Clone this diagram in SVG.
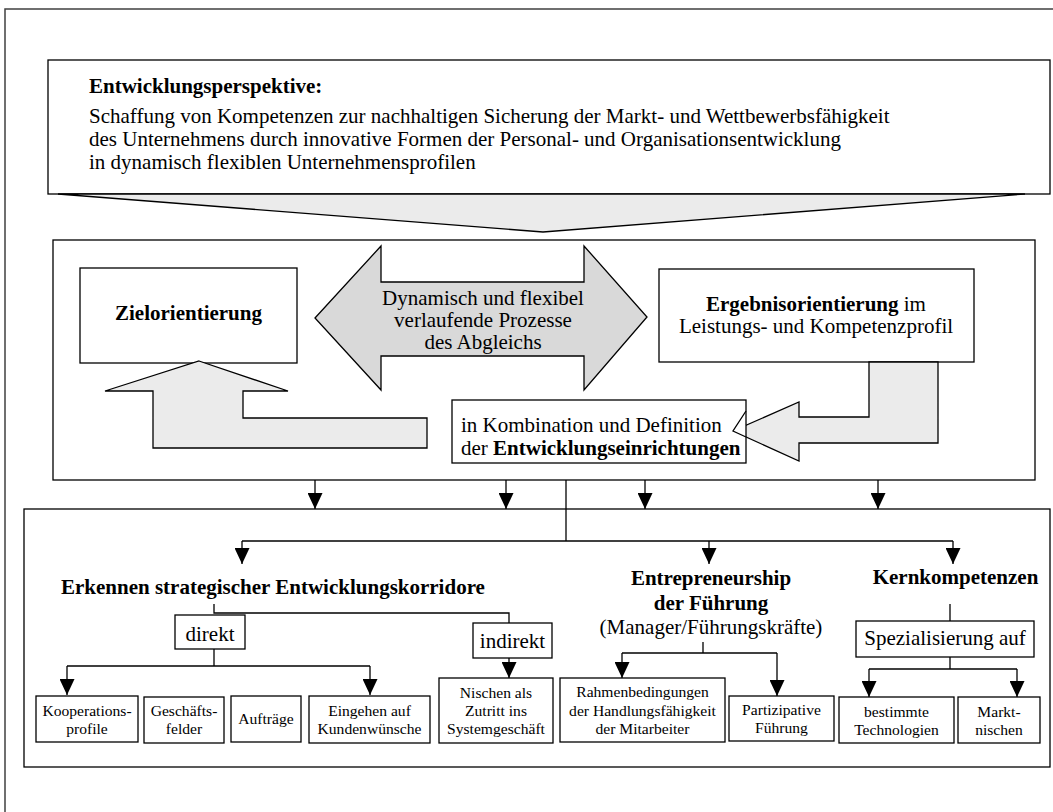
<svg xmlns="http://www.w3.org/2000/svg" width="1053" height="812" viewBox="0 0 1053 812">
<defs>
<style>
.frame{fill:none;stroke:#404040;stroke-width:1.5}
.box{fill:#fff;stroke:#000;stroke-width:1.3}
.lt{fill:#ebebeb;stroke:#000;stroke-width:1.3;stroke-linejoin:miter}
.dk{fill:#d9d9d9;stroke:#000;stroke-width:1.3}
.ol{fill:none;stroke:#000;stroke-width:1.3}
.ln{fill:none;stroke:#000;stroke-width:1.3}
.t{font-family:'Liberation Serif','Times New Roman',serif;font-size:21px;fill:#000}
.s{font-size:15.6px}
.b{font-weight:bold}
.c{text-anchor:middle}
</style>
<marker id="ah" markerUnits="userSpaceOnUse" markerWidth="16" markerHeight="15" viewBox="0 0 16 15" refX="16" refY="7.5" orient="auto">
<path d="M0,0 L16,7.5 L0,15 z" fill="#000"/>
</marker>
</defs>
<rect width="1053" height="812" fill="#fff"/>
<path class="frame" d="M5,812 V9 H1053"/>

<g id="perspektive">
<rect class="box" x="48" y="60" width="1002" height="134"/>
<text class="t b" x="89" y="93">Entwicklungsperspektive:</text>
<text class="t" x="89" y="123">Schaffung von Kompetenzen zur nachhaltigen Sicherung der Markt- und Wettbewerbsfähigkeit</text>
<text class="t" x="89" y="146">des Unternehmens durch innovative Formen der Personal- und Organisationsentwicklung</text>
<text class="t" x="89" y="169">in dynamisch flexiblen Unternehmensprofilen</text>
<polygon class="lt" points="58,194 1025,194 543,232"/>
</g>

<g id="abgleich">
<rect class="box" x="53" y="240" width="982" height="240"/>
</g>

<g id="zielorientierung">
<rect class="box" x="80" y="268" width="217" height="95"/>
<text class="t b c" x="188.5" y="320">Zielorientierung</text>
</g>

<g id="prozesse">
<polygon class="dk" points="315,318 381,246 381,282 584,282 584,246 647,317 584,390 584,356 381,356 381,390"/>
<text class="t c" x="483" y="305">Dynamisch und flexibel</text>
<text class="t c" x="483" y="327">verlaufende Prozesse</text>
<text class="t c" x="483" y="349">des Abgleichs</text>
</g>

<g id="ergebnisorientierung">
<rect class="box" x="659" y="269" width="315" height="93"/>
<text class="t c" x="816" y="311"><tspan class="b">Ergebnisorientierung</tspan> im</text>
<text class="t c" x="816" y="333">Leistungs- und Kompetenzprofil</text>
</g>

<g id="pfeil-links">
<polygon class="lt" points="199,361 288,391 243,391 243,418 427,418 427,448 153,448 153,391 105,391"/>
</g>

<g id="pfeil-rechts">
<polygon class="lt" points="869,362 938,362 938,443 799,443 799,461 733,431 799,402 799,417 869,417"/>
</g>

<g id="kombination">
<rect class="box" x="452" y="400" width="294" height="63"/>
<polyline class="ol" points="746,411 733,431 746,437"/>
<text class="t" x="461" y="432">in Kombination und Definition</text>
<text class="t" x="461" y="455">der <tspan class="b">Entwicklungseinrichtungen</tspan></text>
</g>

<g id="entwicklung">
<rect class="box" x="24" y="509" width="1026" height="258"/>
</g>

<g id="korridore">
<text class="t b" x="61" y="594">Erkennen strategischer Entwicklungskorridore</text>
</g>
<g id="direkt">
<rect class="box" x="175" y="615" width="70" height="34"/>
<text class="t c" x="210" y="641">direkt</text>
</g>
<g id="indirekt">
<rect class="box" x="473" y="623" width="79" height="35"/>
<text class="t c" x="512.5" y="648">indirekt</text>
</g>
<g id="kooperationsprofile">
<rect class="box" x="36" y="696" width="102" height="46"/>
<text class="t s c" x="87" y="716">Kooperations-</text>
<text class="t s c" x="87" y="734">profile</text>
</g>
<g id="geschaeftsfelder">
<rect class="box" x="144" y="697" width="80" height="46"/>
<text class="t s c" x="184" y="716">Geschäfts-</text>
<text class="t s c" x="184" y="734">felder</text>
</g>
<g id="auftraege">
<rect class="box" x="231" y="696" width="70" height="46"/>
<text class="t s c" x="266" y="724">Aufträge</text>
</g>
<g id="kundenwuensche">
<rect class="box" x="309" y="696" width="121" height="47"/>
<text class="t s c" x="369.5" y="716">Eingehen auf</text>
<text class="t s c" x="369.5" y="734">Kundenwünsche</text>
</g>
<g id="nischen">
<rect class="box" x="439" y="678" width="114" height="65"/>
<text class="t s c" x="496" y="698">Nischen als</text>
<text class="t s c" x="496" y="716">Zutritt ins</text>
<text class="t s c" x="496" y="734">Systemgeschäft</text>
</g>

<g id="entrepreneurship">
<text class="t b c" x="711" y="585">Entrepreneurship</text>
<text class="t b c" x="711" y="610">der Führung</text>
<text class="t c" x="711" y="634">(Manager/Führungskräfte)</text>
</g>
<g id="rahmenbedingungen">
<rect class="box" x="560" y="678" width="165" height="64"/>
<text class="t s c" x="642.5" y="697">Rahmenbedingungen</text>
<text class="t s c" x="642.5" y="716">der Handlungsfähigkeit</text>
<text class="t s c" x="642.5" y="734">der Mitarbeiter</text>
</g>
<g id="partizipative">
<rect class="box" x="729" y="696" width="105" height="45"/>
<text class="t s c" x="781.5" y="715">Partizipative</text>
<text class="t s c" x="781.5" y="733">Führung</text>
</g>

<g id="kernkompetenzen">
<text class="t b c" x="955.5" y="584">Kernkompetenzen</text>
</g>
<g id="spezialisierung">
<rect class="box" x="856" y="621" width="178" height="36"/>
<text class="t c" x="945" y="645">Spezialisierung auf</text>
</g>
<g id="technologien">
<rect class="box" x="839" y="697" width="115" height="46"/>
<text class="t s c" x="896.5" y="717">bestimmte</text>
<text class="t s c" x="896.5" y="735">Technologien</text>
</g>
<g id="marktnischen">
<rect class="box" x="958" y="697" width="82" height="46"/>
<text class="t s c" x="999" y="717">Markt-</text>
<text class="t s c" x="999" y="735">nischen</text>
</g>

<g id="connectors">
<path class="ln" d="M315,480 V509" marker-end="url(#ah)"/>
<path class="ln" d="M506,480 V509" marker-end="url(#ah)"/>
<path class="ln" d="M645,480 V509" marker-end="url(#ah)"/>
<path class="ln" d="M878,480 V509" marker-end="url(#ah)"/>
<path class="ln" d="M566,480 V541"/>
<path class="ln" d="M242,541 H953"/>
<path class="ln" d="M242,541 V564" marker-end="url(#ah)"/>
<path class="ln" d="M709,541 V564" marker-end="url(#ah)"/>
<path class="ln" d="M953,541 V564" marker-end="url(#ah)"/>
<path class="ln" d="M214,604 V613 H509 V623"/>
<path class="ln" d="M214,649 V666"/>
<path class="ln" d="M67,666 H370"/>
<path class="ln" d="M67,666 V695" marker-end="url(#ah)"/>
<path class="ln" d="M370,666 V695" marker-end="url(#ah)"/>
<path class="ln" d="M509,658 V678" marker-end="url(#ah)"/>
<path class="ln" d="M703,642 V653"/>
<path class="ln" d="M622,653 H777"/>
<path class="ln" d="M622,653 V678" marker-end="url(#ah)"/>
<path class="ln" d="M777,653 V696" marker-end="url(#ah)"/>
<path class="ln" d="M950,604 V621"/>
<path class="ln" d="M950,657 V669"/>
<path class="ln" d="M869,669 H1017"/>
<path class="ln" d="M869,669 V697" marker-end="url(#ah)"/>
<path class="ln" d="M1017,669 V697" marker-end="url(#ah)"/>
</g>
</svg>
